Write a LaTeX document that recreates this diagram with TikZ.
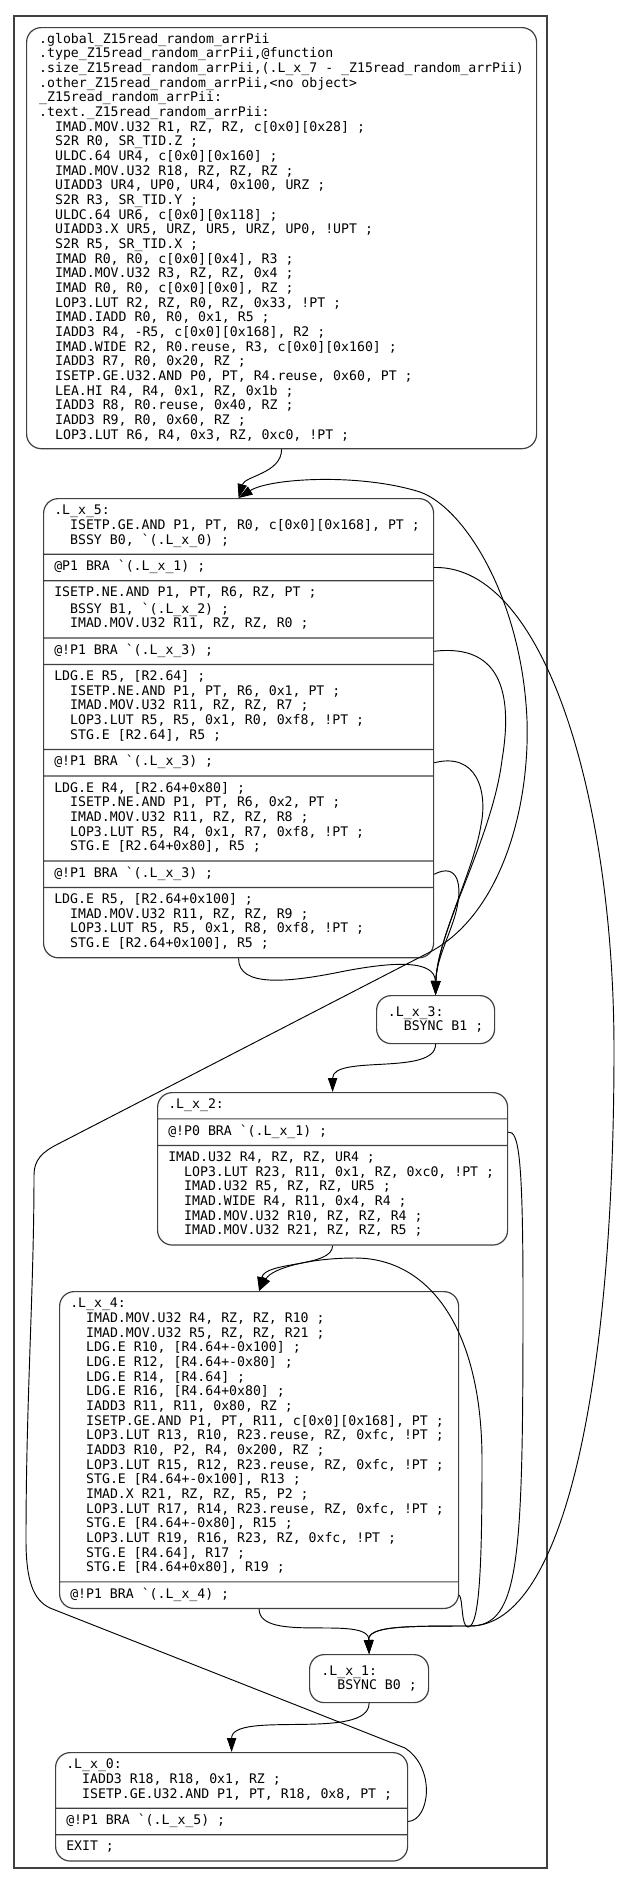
\documentclass[tikz,border=0pt]{standalone}
\usepackage{fontspec}
\setmonofont{DejaVu Sans Mono}
\usetikzlibrary{shapes.multipart,arrows.meta}
\newcommand{\ind}{\hphantom{xx}}

\begin{document}
\begin{tikzpicture}[x=0.75pt,y=-0.75pt]
\tikzstyle{block}=[draw=black!75, line width=0.9pt, rounded corners=11pt, inner xsep=8pt, inner ysep=3.9pt,
  align=left, anchor=north west, font=\ttfamily\fontsize{9.9pt}{11pt}\selectfont]
\tikzstyle{record}=[block, rectangle split, rectangle split part align=left]
\tikzstyle{sync}=[block, minimum height=36pt]
\tikzstyle{edge}=[black, line width=0.7pt, -{Triangle[length=10.5pt,width=7pt]}]
\tikzstyle{cluster}=[draw=black!75, line width=0.9pt]

\useasboundingbox (0,0) rectangle (621,1885);
\draw[cluster] (14,16) rectangle (547,1868);

\node[block, minimum width=382.5pt] (entry) at (26,27) {\strut.global\_Z15read\_random\_arrPii\\
.type\_Z15read\_random\_arrPii,@function\\
.size\_Z15read\_random\_arrPii,(.L\_x\_7 - \_Z15read\_random\_arrPii)\\
.other\_Z15read\_random\_arrPii,<no object>\\
\_Z15read\_random\_arrPii:\\
.text.\_Z15read\_random\_arrPii:\\
\ind IMAD.MOV.U32 R1, RZ, RZ, c[0x0][0x28] ;\\
\ind S2R R0, SR\_TID.Z ;\\
\ind ULDC.64 UR4, c[0x0][0x160] ;\\
\ind IMAD.MOV.U32 R18, RZ, RZ, RZ ;\\
\ind UIADD3 UR4, UP0, UR4, 0x100, URZ ;\\
\ind S2R R3, SR\_TID.Y ;\\
\ind ULDC.64 UR6, c[0x0][0x118] ;\\
\ind UIADD3.X UR5, URZ, UR5, URZ, UP0, !UPT ;\\
\ind S2R R5, SR\_TID.X ;\\
\ind IMAD R0, R0, c[0x0][0x4], R3 ;\\
\ind IMAD.MOV.U32 R3, RZ, RZ, 0x4 ;\\
\ind IMAD R0, R0, c[0x0][0x0], RZ ;\\
\ind LOP3.LUT R2, RZ, R0, RZ, 0x33, !PT ;\\
\ind IMAD.IADD R0, R0, 0x1, R5 ;\\
\ind IADD3 R4, -R5, c[0x0][0x168], R2 ;\\
\ind IMAD.WIDE R2, R0.reuse, R3, c[0x0][0x160] ;\\
\ind IADD3 R7, R0, 0x20, RZ ;\\
\ind ISETP.GE.U32.AND P0, PT, R4.reuse, 0x60, PT ;\\
\ind LEA.HI R4, R4, 0x1, RZ, 0x1b ;\\
\ind IADD3 R8, R0.reuse, 0x40, RZ ;\\
\ind IADD3 R9, R0, 0x60, RZ ;\\
\ind LOP3.LUT R6, R4, 0x3, RZ, 0xc0, !PT ;\strut};

\node[record, rectangle split parts=9, minimum width=292.5pt] (lx5) at (43,498) {\strut.L\_x\_5:\\
\ind ISETP.GE.AND P1, PT, R0, c[0x0][0x168], PT ;\\
\ind BSSY B0, `(.L\_x\_0) ;\strut
\nodepart{two}\strut@P1 BRA `(.L\_x\_1) ;
\nodepart{three}\strut ISETP.NE.AND P1, PT, R6, RZ, PT ;\\
\ind BSSY B1, `(.L\_x\_2) ;\\
\ind IMAD.MOV.U32 R11, RZ, RZ, R0 ;\strut
\nodepart{four}\strut@!P1 BRA `(.L\_x\_3) ;
\nodepart{five}\strut LDG.E R5, [R2.64] ;\\
\ind ISETP.NE.AND P1, PT, R6, 0x1, PT ;\\
\ind IMAD.MOV.U32 R11, RZ, RZ, R7 ;\\
\ind LOP3.LUT R5, R5, 0x1, R0, 0xf8, !PT ;\\
\ind STG.E [R2.64], R5 ;\strut
\nodepart{six}\strut@!P1 BRA `(.L\_x\_3) ;
\nodepart{seven}\strut LDG.E R4, [R2.64+0x80] ;\\
\ind ISETP.NE.AND P1, PT, R6, 0x2, PT ;\\
\ind IMAD.MOV.U32 R11, RZ, RZ, R8 ;\\
\ind LOP3.LUT R5, R4, 0x1, R7, 0xf8, !PT ;\\
\ind STG.E [R2.64+0x80], R5 ;\strut
\nodepart{eight}\strut@!P1 BRA `(.L\_x\_3) ;
\nodepart{nine}\strut LDG.E R5, [R2.64+0x100] ;\\
\ind IMAD.MOV.U32 R11, RZ, RZ, R9 ;\\
\ind LOP3.LUT R5, R5, 0x1, R8, 0xf8, !PT ;\\
\ind STG.E [R2.64+0x100], R5 ;\strut};

\node[sync, minimum width=88.5pt] (lx3) at (376,995) {.L\_x\_3:\\ \ind BSYNC B1 ;};

\node[record, rectangle split parts=3, minimum width=262.5pt] (lx2) at (157,1092) {\strut.L\_x\_2:
\nodepart{two}\strut@!P0 BRA `(.L\_x\_1) ;
\nodepart{three}\strut IMAD.U32 R4, RZ, RZ, UR4 ;\\
\ind LOP3.LUT R23, R11, 0x1, RZ, 0xc0, !PT ;\\
\ind IMAD.U32 R5, RZ, RZ, UR5 ;\\
\ind IMAD.WIDE R4, R11, 0x4, R4 ;\\
\ind IMAD.MOV.U32 R10, RZ, RZ, R4 ;\\
\ind IMAD.MOV.U32 R21, RZ, RZ, R5 ;\strut};

\node[record, rectangle split parts=2, minimum width=299.25pt] (lx4) at (59,1291) {\strut.L\_x\_4:\\
\ind IMAD.MOV.U32 R4, RZ, RZ, R10 ;\\
\ind IMAD.MOV.U32 R5, RZ, RZ, R21 ;\\
\ind LDG.E R10, [R4.64+-0x100] ;\\
\ind LDG.E R12, [R4.64+-0x80] ;\\
\ind LDG.E R14, [R4.64] ;\\
\ind LDG.E R16, [R4.64+0x80] ;\\
\ind IADD3 R11, R11, 0x80, RZ ;\\
\ind ISETP.GE.AND P1, PT, R11, c[0x0][0x168], PT ;\\
\ind LOP3.LUT R13, R10, R23.reuse, RZ, 0xfc, !PT ;\\
\ind IADD3 R10, P2, R4, 0x200, RZ ;\\
\ind LOP3.LUT R15, R12, R23.reuse, RZ, 0xfc, !PT ;\\
\ind STG.E [R4.64+-0x100], R13 ;\\
\ind IMAD.X R21, RZ, RZ, R5, P2 ;\\
\ind LOP3.LUT R17, R14, R23.reuse, RZ, 0xfc, !PT ;\\
\ind STG.E [R4.64+-0x80], R15 ;\\
\ind LOP3.LUT R19, R16, R23, RZ, 0xfc, !PT ;\\
\ind STG.E [R4.64], R17 ;\\
\ind STG.E [R4.64+0x80], R19 ;\strut
\nodepart{two}\strut@!P1 BRA `(.L\_x\_4) ;};

\node[sync, minimum width=89.25pt] (lx1) at (309,1654) {.L\_x\_1:\\ \ind BSYNC B0 ;};

\node[record, rectangle split parts=3, minimum width=264pt] (lx0) at (55,1752) {\strut.L\_x\_0:\\
\ind IADD3 R18, R18, 0x1, RZ ;\\
\ind ISETP.GE.U32.AND P1, PT, R18, 0x8, PT ;\strut
\nodepart{two}\strut@!P1 BRA `(.L\_x\_5) ;
\nodepart{three}\strut EXIT ;};

% fall-through edges
\draw[edge] (entry.south) .. controls +(0,24) and +(6,-22) .. (lx5.north);
\draw[edge] (lx5.south) .. controls (238,988) and (290,982) .. (340,972) .. controls (395,961) and (435,960) .. (lx3.north);
\draw[edge] (lx3.south) .. controls +(0,32) and +(0,-38) .. (lx2.north);
\draw[edge] (lx2.south) .. controls +(0,22) and +(6,-30) .. (lx4.north);
\draw[edge] (lx4.south) .. controls +(0,35) and +(0,-40) .. (lx1.north);
\draw[edge] (lx1.south) .. controls +(0,38) and +(0,-42) .. (lx0.north);

% branch edges
\draw[edge] (lx5.two east) .. controls (545,565) and (614,800) .. (614,1050) .. controls (614,1380) and (565,1626) .. (470,1626) .. controls (405,1626) and (368,1626) .. (lx1.north);
\draw[edge] (lx5.four east) .. controls (505,643) and (512,700) .. (502,760) .. controls (492,840) and (437,930) .. (lx3.north);
\draw[edge] (lx5.six east) .. controls (476,752) and (488,790) .. (481,825) .. controls (474,870) and (437,940) .. (lx3.north);
\draw[edge] (lx5.eight east) .. controls (458,862) and (463,885) .. (456,912) .. controls (450,935) and (436,960) .. (lx3.north);
\draw[edge] (lx2.two east) .. controls (519,1130) and (523,1160) .. (523,1300) .. controls (523,1560) and (520,1626) .. (470,1626) .. controls (405,1626) and (368,1626) .. (lx1.north);
\draw[edge] (lx4.two east) .. controls (463,1598) and (461,1627) .. (468,1627) .. controls (480,1627) and (482,1560) .. (482,1460) .. controls (482,1330) and (430,1258) .. (355,1258) .. controls (310,1258) and (272,1268) .. (lx4.north);
\draw[edge] (lx0.two east) .. controls (430,1820) and (436,1768) .. (405,1748) -- (50,1608)
  .. controls (33,1600) and (26,1580) .. (26,1540) .. controls (26,1400) and (34,1290) .. (34,1175)
  .. controls (34,1160) and (42,1152) .. (58,1144) -- (430,952)
  .. controls (500,915) and (530,810) .. (527,720) .. controls (522,600) and (465,508) .. (420,492)
  .. controls (360,473) and (270,478) .. (lx5.north); % loop back to .L_x_5
\end{tikzpicture}
\end{document}
